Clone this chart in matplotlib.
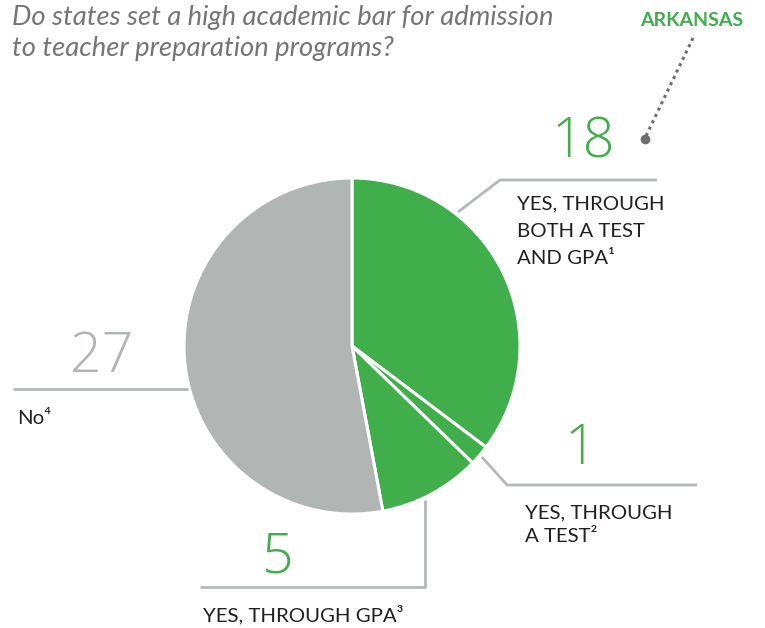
import matplotlib
matplotlib.use("Agg")
import matplotlib.pyplot as plt

# datos
categorias = [["YES, THROUGH", "BOTH A TEST", "AND GPA¹"], ["YES, THROUGH", "A TEST²"],
              ["YES, THROUGH GPA³"], ["No⁴"]]
valores = [18, 1, 5, 27]
colores = ["#40ae4a", "#40ae4a", "#40ae4a", "#b1b5b4"]
titulo = ["Do states set a high academic bar for admission", "to teacher preparation programs?"]
estado = "ARKANSAS"

GREEN = "#40ae4a"
GRAY = "#b1b5b4"
LINE = "#b4b8b8"
TXT = "#231f20"
H = 628

plt.rcParams["font.family"] = ["Lato", "DejaVu Sans"]

fig = plt.figure(figsize=(7.65, 6.28), dpi=100)
ax = fig.add_axes([0, 0, 1, 1])


def y(v):
    # coordenadas de imagen (y hacia abajo) -> ejes
    return H - v


ax.pie(valores, colors=colores, startangle=90, counterclock=False,
       center=(352, y(346)), radius=168,
       wedgeprops=dict(edgecolor="white", linewidth=2.2), frame=True)
ax.set_xlim(0, 765)
ax.set_ylim(0, H)
ax.set_aspect("equal")
ax.axis("off")

# titulo
for linea, base in zip(titulo, [25, 56]):
    ax.text(12, y(base), linea, ha="left", va="baseline", fontsize=19.7,
            style="italic", color="#747578")

# lineas guia
ax.plot([458, 500, 657], [y(212), y(180), y(180)], color=LINE, lw=2, solid_capstyle="butt")
ax.plot([482, 507, 697], [y(457), y(485), y(485)], color=LINE, lw=2, solid_capstyle="butt")
ax.plot([425, 425, 200], [y(500), y(587), y(587)], color=LINE, lw=2, solid_capstyle="butt")
ax.plot([13, 188], [y(389), y(389)], color=LINE, lw=2, solid_capstyle="butt")

# numeros
num_kw = dict(ha="center", va="center", fontsize=40, family=["Open Sans", "Lato"],
              fontweight="light")
ax.text(583, y(143), str(valores[0]), color=GREEN, **num_kw)
ax.text(580, y(450), str(valores[1]), color=GREEN, **num_kw)
ax.text(277, y(558), str(valores[2]), color=GREEN, **num_kw)
ax.text(102, y(357), str(valores[3]), color=GRAY, **num_kw)

# etiquetas (x, linea base de la primera linea, salto)
lab_pos = [(517, 209.5, 27.5), (525, 518.5, 23), (203, 621.5, 0), (17, 423.5, 0)]
for lineas, (x0, b0, paso) in zip(categorias, lab_pos):
    for i, linea in enumerate(lineas):
        ax.text(x0, y(b0 + i * paso), linea, ha="left", va="baseline",
                fontsize=14.7, color=TXT)

# arkansas
ax.text(692, y(20), estado, ha="center", va="center", fontsize=14,
        fontweight="bold", color=GREEN)
ax.plot([693, 645], [y(38), y(138)], color="#6d6e71", lw=2.2, ls=(0, (1, 1.3)))
ax.plot([645], [y(139)], "o", color="#6d6e71", ms=6)

fig.savefig("out.png", dpi=100)
